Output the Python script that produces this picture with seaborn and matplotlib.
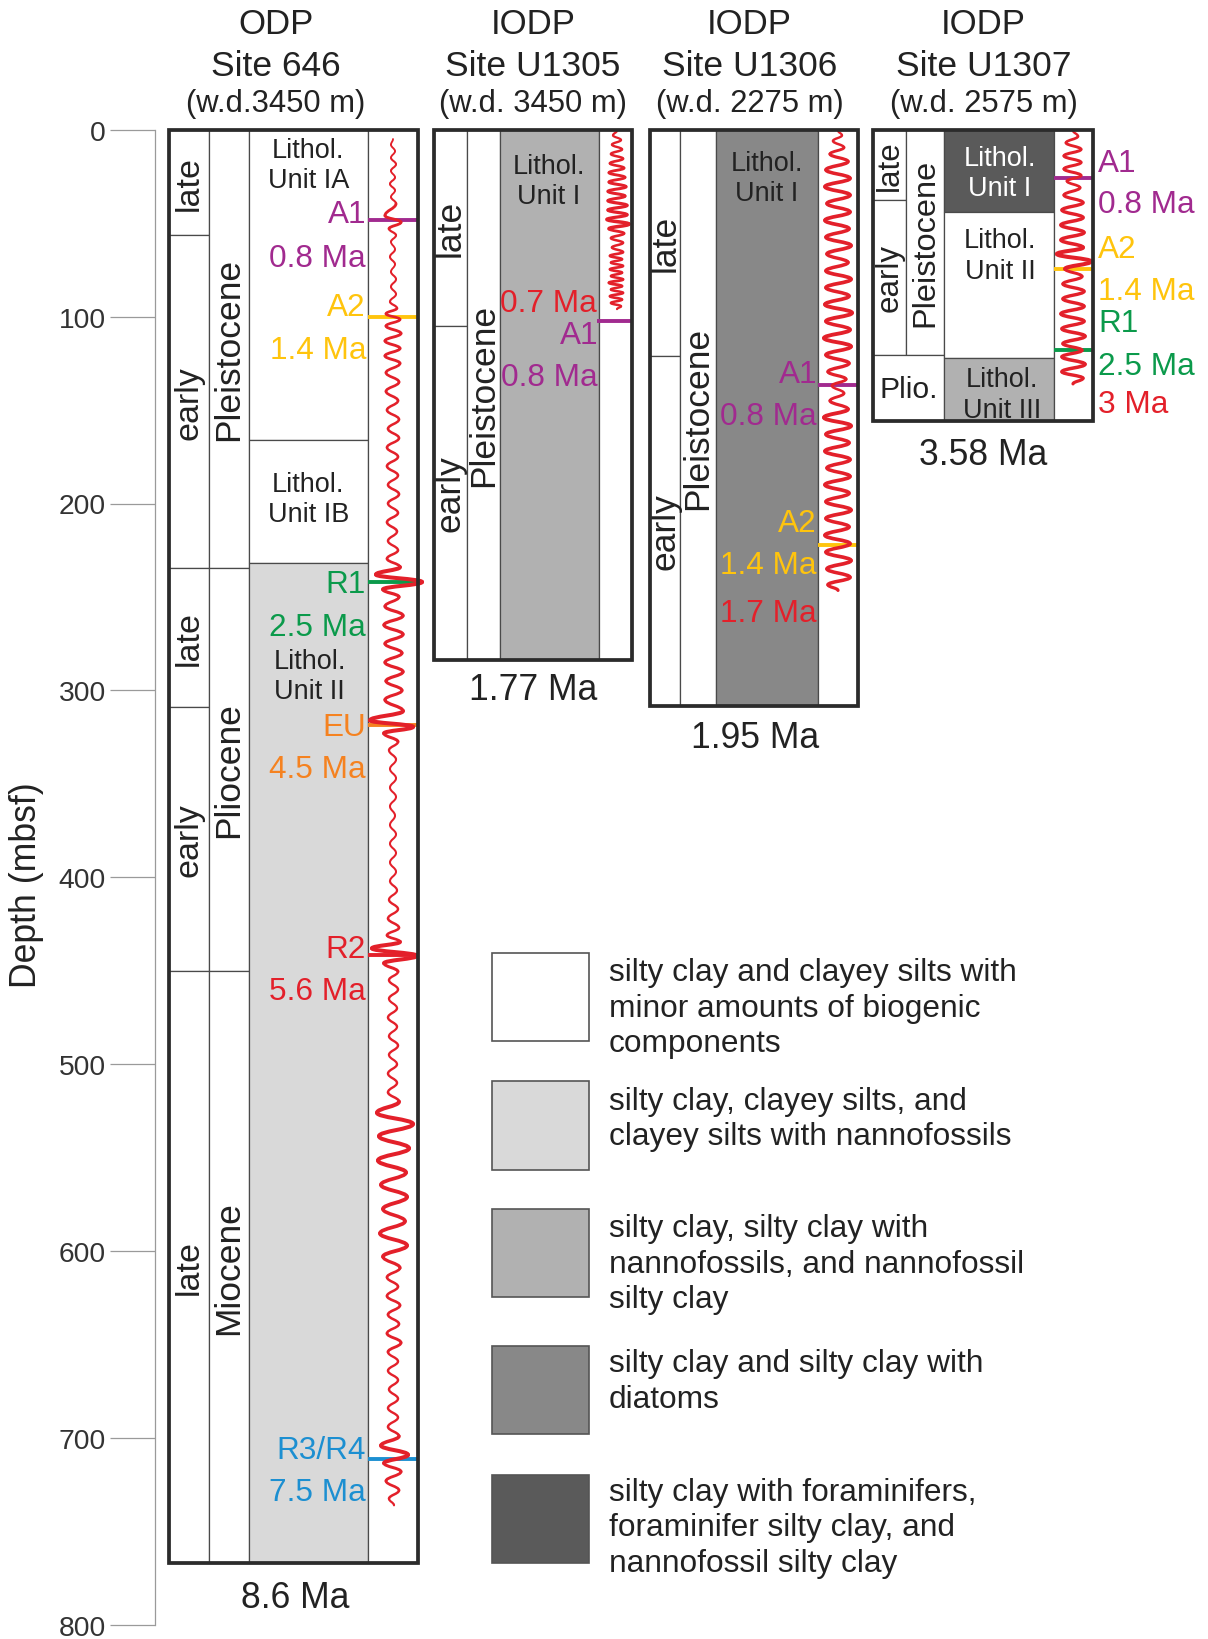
import matplotlib
matplotlib.use("Agg")
import matplotlib.pyplot as plt
from matplotlib.patches import Rectangle, PathPatch
from matplotlib.path import Path
import seaborn as sns

sns.set_theme(style="white")
plt.rcParams['font.family'] = ['Liberation Sans', 'DejaVu Sans']

# ---------------------------------------------------------------- data
DEPTH_TICKS = [0, 100, 200, 300, 400, 500, 600, 700, 800]

# Site 646
S646_BOTTOM = 767
S646_SUB = [(0, 56.5, 'late'), (56.5, 234.5, 'early'), (234.5, 309, 'late'),
            (309, 450, 'early'), (450, 767, 'late')]
S646_EPOCH = [(0, 234.5, 'Pleistocene'), (234.5, 450, 'Pliocene'), (450, 767, 'Miocene')]
S646_LITH = [(0, 166, 'white'), (166, 232, 'white'), (232, 767, 'light')]
S646_UNITS = ['Lithol.\nUnit IA', 'Lithol.\nUnit IB', 'Lithol.\nUnit II']
S646_REFL = ['A1', 'A2', 'R1', 'EU', 'R2', 'R3/R4']
S646_AGES = ['0.8 Ma', '1.4 Ma', '2.5 Ma', '4.5 Ma', '5.6 Ma', '7.5 Ma']
S646_REFL_DEPTH = [48.5, 100.2, 242, 318.4, 441.6, 711]
S646_TRACE_D = [5, 8, 11.5, 15, 18.5, 22, 25.5, 29, 32.5, 36, 39.5, 46, 49.5, 53, 56.5,
                60, 64, 68, 72, 76, 80, 84, 88, 92, 95.5, 98.5, 101.5, 105, 109, 113,
                117, 121, 125, 130, 135, 140, 145, 150, 155, 160, 165, 170, 175, 180,
                185, 190, 195, 200, 205, 210, 215, 220, 225, 229.5, 234, 238, 242, 246,
                250, 255, 260, 265, 270, 275, 280, 285, 290, 295, 300, 305, 311, 316,
                319.5, 323, 327.5, 332, 337, 342, 347, 352, 357, 362, 367, 372, 377,
                382, 387, 392, 397, 402, 407, 412, 417, 422, 427, 431, 434.5, 438, 442,
                446, 450.5, 455, 460, 465, 470, 475, 480, 485, 490, 495, 500, 505, 510,
                515, 520, 526, 532, 538.5, 545, 551.5, 558, 564.5, 571, 577.5, 584,
                590.5, 597, 603, 609, 614, 619, 624, 629, 634, 639, 644, 649, 654, 659,
                664, 669, 674, 679, 684, 689, 694, 699, 704, 709, 713.5, 718, 723, 728,
                732.5, 736]
S646_TRACE_A = [0, -2, 2, -2, 3, -2, 2, -3, 2, -2, 3, -8, 8, -4, 3,
                -2, 2, -3, 2, -2, 3, -2, 3, -3, 4, -7, 7, -7, 8, -8,
                7, -8, 7, -7, 6, -7, 5, -6, 6, -5, 6, -6, 5, -6,
                5, -5, 6, -5, 5, -6, 4, -5, 5, -6, 7, -17, 29, -10,
                6, -8, 10, -9, 10, -8, 9, -8, 10, -7, 9, -8, 10, -23,
                20, -9, 5, -4, 3, -3, 3, -3, 3, -3, 2, -3, 3,
                -3, 3, -3, 3, -3, 4, -4, 5, -5, 6, -6, 7, -21, 24,
                -9, 5, -4, 5, -4, 4, -5, 4, -4, 5, -4, 4, -5, 4,
                -5, 6, -16, 20, -14, 16, -15, 13, -12, 14, -10, 12,
                -13, 14, -10, 7, -6, 5, -6, 7, -5, 6, -6, 8, -5, 5,
                -5, 5, -4, 5, -5, 5, -5, 6, -12, 15, -9, 8, -7, 6,
                -4, 1]

# Site U1305
U1305_BOTTOM = 283.7
U1305_SUB = [(0, 105, 'late'), (105, 283.7, 'early')]
U1305_EPOCH = [(0, 283.7, 'Pleistocene')]
U1305_LITH = [(0, 283.7, 'mid')]
U1305_UNITS = ['Lithol.\nUnit I']
U1305_REFL = ['A1']
U1305_AGES = ['0.8 Ma']
U1305_REFL_DEPTH = [102.4]
U1305_TRACE_D = [0.5, 3, 5.5, 8, 10.5, 13, 15.5, 18, 20.5, 23, 25.5, 28, 30.5, 33, 35.5,
                 38, 40.5, 43, 45.5, 48, 50.5, 53, 55.5, 58, 60.5, 63, 65.5, 67.5, 69.3,
                 71.1, 72.9, 74.7, 76.5, 78.3, 80.1, 81.9, 83.7, 85.5, 87.3, 89.1, 90.9,
                 92.7, 94.5, 96]
U1305_TRACE_A = [0, -4, 4, -5, 5, -6, 6, -7, 7, -8, 8, -8, 9, -9, 8,
                 -9, 10, -9, 10, -10, 12, -8, 7, -6, 6, -5, 6, -7, 5,
                 -6, 6, -7, 5, -6, 6, -8, 5, -6, 6, -7, 5,
                 -6, 4, 0]

# Site U1306
U1306_BOTTOM = 308.4
U1306_SUB = [(0, 120.9, 'late'), (120.9, 308.4, 'early')]
U1306_EPOCH = [(0, 308.4, 'Pleistocene')]
U1306_LITH = [(0, 308.4, 'dark')]
U1306_UNITS = ['Lithol.\nUnit I']
U1306_REFL = ['A1', 'A2']
U1306_AGES = ['0.8 Ma', '1.4 Ma']
U1306_REFL_DEPTH = [136.5, 222]
U1306_TRACE_D = [0.5, 3, 6, 9.5, 13, 17, 21.5, 26, 30.5, 35, 39.5, 44, 48.5, 53, 57.5,
                 62, 66.5, 71, 75.5, 80, 84.5, 89, 93.5, 98, 102.5, 107, 111.5, 116,
                 120.5, 125, 129.5, 133.5, 137, 141, 145, 149.5, 154, 158.5, 163, 167.5,
                 172, 176.5, 181, 185.5, 190, 194.5, 199, 203.5, 208, 212.5, 217, 221.5,
                 226, 230.5, 235, 239.5, 243.5, 246.5]
U1306_TRACE_A = [0, 4, -5, 6, -8, 10, -12, 12, -13, 12, -11, 12, -13, 11, -12,
                 13, -11, 10, -12, 13, -12, 11, -13, 14, -12, 12, -14, 13,
                 -12, 11, -10, 8, -6, 6, -8, 10, -14, 13, -12, 11,
                 -13, 12, -11, 12, -13, 11, -12, 13, -12, 11, -13, 12,
                 -12, 13, -11, 12, -10, 0]

# Site U1307
U1307_BOTTOM = 155.7
U1307_SUB = [(0, 37.6, 'late'), (37.6, 120.4, 'early')]
U1307_EPOCH = [(0, 120.4, 'Pleistocene')]
U1307_MERGED = [(120.4, 155.7, 'Plio.')]
U1307_LITH = [(0, 44.2, 'darkest'), (44.2, 122.2, 'white'), (122.2, 155.7, 'mid')]
U1307_UNITS = ['Lithol.\nUnit I', 'Lithol.\nUnit II', 'Lithol.\nUnit III']
U1307_REFL = ['A1', 'A2', 'R1']
U1307_AGES = ['0.8 Ma', '1.4 Ma', '2.5 Ma']
U1307_REFL_DEPTH = [25.8, 74.6, 118.1]
U1307_TRACE_D = [0.5, 3.5, 7, 10.5, 14, 17.5, 21, 24.5, 27.5, 31, 35, 39, 43, 47, 51, 55,
                 59, 63, 66.5, 70.5, 74.5, 78.5, 82.5, 86.5, 90.5, 94.5, 98.5, 102.5,
                 106.5, 110.5, 114.5, 118, 121.5, 125.5, 129.5, 133, 136]
U1307_TRACE_A = [0, 5, -7, 8, -9, 8, -9, 8, -6, 7, -9, 10, -11, 10, -12, 11,
                 -12, 10, -16, 18, -8, 9, -10, 11, -10, 11, -12, 11,
                 -11, 12, -10, 9, -11, 12, -11, 10, 0]

SITE_TITLES = [('ODP', 'Site 646', '(w.d.3450 m)'),
               ('IODP', 'Site U1305', '(w.d. 3450 m)'),
               ('IODP', 'Site U1306', '(w.d. 2275 m)'),
               ('IODP', 'Site U1307', '(w.d. 2575 m)')]
BASE_AGES = ['8.6 Ma', '1.77 Ma', '1.95 Ma', '3.58 Ma']
EXTRA_AGES = [('0.7 Ma', 90.7), ('1.7 Ma', 256.9), ('3 Ma', 145.0)]

LEGEND_LABELS = ['silty clay and clayey silts with\nminor amounts of biogenic\ncomponents',
                 'silty clay, clayey silts, and\nclayey silts with nannofossils',
                 'silty clay, silty clay with\nnannofossils, and nannofossil\nsilty clay',
                 'silty clay and silty clay with\ndiatoms',
                 'silty clay with foraminifers,\nforaminifer silty clay, and\nnannofossil silty clay']
LEGEND_KEYS = ['white', 'light', 'mid', 'dark', 'darkest']

# ---------------------------------------------------------------- styles
FILLS = {'white': '#ffffff', 'light': '#d9d9d9', 'mid': '#b1b1b1',
         'dark': '#888888', 'darkest': '#5a5a5a'}
REFL_COLORS = {'A1': '#a12a8f', 'A2': '#ffc40d', 'R1': '#0b9a4b',
               'EU': '#f58220', 'R2': '#e3202a', 'R3/R4': '#1c8fd1'}
TRACE_RED = '#e3202a'
INK = '#222222'
LINE = '#4a4a4a'
FRAME = '#2b2b2b'

W, H = 1208, 1640
Y0, PPM = 130.7, 1.869          # pixel row of 0 m and pixels per metre


def row(y):
    """Depth value of a pixel row (used for layout of free text)."""
    return (y - Y0) / PPM


fig = plt.figure(figsize=(W / 100, H / 100), dpi=100)
ax = fig.add_axes([155 / W, 0, 1 - 155 / W, 1])
ax.set_xlim(155, W)
ax.set_ylim(row(H), row(0))
ax.set_facecolor('white')

# depth axis
ax.set_yticks(DEPTH_TICKS)
ax.set_yticklabels([str(t) for t in DEPTH_TICKS])
ax.set_xticks([])
ax.tick_params(axis='y', left=True, length=32.4, width=0.9, color='#9a9a9a',
               labelsize=20.3, labelcolor='#333333', pad=3, direction='out')
sns.despine(ax=ax, top=True, right=True, bottom=True, left=False)
ax.spines['left'].set_bounds(0, 800)
ax.spines['left'].set_color('#9a9a9a')
ax.spines['left'].set_linewidth(0.9)
ax.grid(False)
ax.set_ylabel('Depth (mbsf)', fontsize=25.7, color=INK)
ax.yaxis.set_label_coords(-0.1054, 1 - 885 / H)


def curve_trace(xc, depths, amps):
    for i in range(len(depths) - 1):
        d0, d1 = depths[i], depths[i + 1]
        a0, a1 = amps[i], amps[i + 1]
        h = 0.42 * (d1 - d0)
        verts = [(xc + a0, d0), (xc + a0, d0 + h), (xc + a1, d1 - h), (xc + a1, d1)]
        codes = [Path.MOVETO, Path.CURVE4, Path.CURVE4, Path.CURVE4]
        lw = min(1.1 + 0.12 * max(abs(a0), abs(a1)), 2.9)
        ax.add_patch(PathPatch(Path(verts, codes), fill=False, ec=TRACE_RED, lw=lw,
                               capstyle='round', joinstyle='round', zorder=8))


def draw_site(cols, bottom, sub, epoch, lith, units, unit_pos, merged=(),
              period_size=25.5, sub_size=25.5):
    xa, xb, xc, xd, xe = cols
    for top, base, name in sub:
        ax.add_patch(Rectangle((xa, top), xb - xa, base - top, fc='white', ec=LINE,
                               lw=0.9, zorder=2))
        ax.text((xa + xb) / 2, (top + base) / 2, name, rotation=90, ha='center',
                va='center', fontsize=sub_size, color=INK, zorder=3)
    for top, base, name in epoch:
        ax.add_patch(Rectangle((xb, top), xc - xb, base - top, fc='white', ec=LINE,
                               lw=0.9, zorder=2))
        ax.text((xb + xc) / 2, (top + base) / 2, name, rotation=90, ha='center',
                va='center', fontsize=period_size, color=INK, zorder=3)
    for top, base, name in merged:
        ax.add_patch(Rectangle((xa, top), xc - xa, base - top, fc='white', ec=LINE,
                               lw=0.9, zorder=2))
        ax.text((xa + xc) / 2, row(387), name, ha='center', va='center_baseline',
                fontsize=21.7, color=INK, zorder=3)
    for top, base, key in lith:
        ax.add_patch(Rectangle((xc, top), xd - xc, base - top, fc=FILLS[key], ec=LINE,
                               lw=0.9, zorder=2))
    ax.add_patch(Rectangle((xd, 0), xe - xd, bottom, fc='white', ec=LINE, lw=0.9, zorder=2))
    for text, (ux, uy, col) in zip(units, unit_pos):
        l1, l2 = text.split('\n')
        ax.text(ux, uy, l1, ha='center', va='center_baseline', fontsize=19.5,
                color=col, zorder=3)
        ax.text(ux, uy + 16.2, l2, ha='center', va='center_baseline', fontsize=19.5,
                color=col, zorder=3)
    ax.add_patch(Rectangle((xa, 0), xe - xa, bottom, fill=False, ec=FRAME, lw=2.7,
                           joinstyle='miter', zorder=9))


def draw_reflectors(x0, x1, names, ages, depths, name_rows, age_rows, lx, ha):
    for n, a, d, nr, ar in zip(names, ages, depths, name_rows, age_rows):
        c = REFL_COLORS[n]
        ax.hlines(d, x0, x1, colors=c, lw=2.8, zorder=6)
        ax.text(lx, nr, n, ha=ha, va='center_baseline', fontsize=22.7, color=c, zorder=4)
        ax.text(lx, ar, a, ha=ha, va='center_baseline', fontsize=22.7, color=c, zorder=4)


# ---------------------------------------------------------------- columns
C646 = [169.4, 209.2, 248.9, 368.2, 418.4]
C1305 = [434.0, 466.5, 500.0, 599.3, 631.7]
C1306 = [649.5, 679.8, 716.4, 817.9, 857.6]
C1307 = [873.3, 905.7, 944.3, 1054.0, 1093.0]

draw_site(C646, S646_BOTTOM, S646_SUB, S646_EPOCH, S646_LITH, S646_UNITS,
          [(308.5, 9.0, INK), (308.5, 188.0, INK), (309.6, 282.6, INK)], sub_size=24.5)
draw_site(C1305, U1305_BOTTOM, U1305_SUB, U1305_EPOCH, U1305_LITH, U1305_UNITS,
          [(549.0, 17.9, INK)])
draw_site(C1306, U1306_BOTTOM, U1306_SUB, U1306_EPOCH, U1306_LITH, U1306_UNITS,
          [(766.6, 16.2, INK)])
draw_site(C1307, U1307_BOTTOM, U1307_SUB, U1307_EPOCH, U1307_LITH, U1307_UNITS,
          [(1000.0, 13.4, 'white'), (1000.0, 57.6, INK), (1002.0, 132.0, INK)],
          merged=U1307_MERGED, period_size=23.4, sub_size=22.5)

# reflectors and their ages
draw_reflectors(C646[3], C646[4], S646_REFL, S646_AGES, S646_REFL_DEPTH,
                [43.4, 92.9, 241.2, 317.9, 436.5, 704.5],
                [66.6, 115.8, 264.1, 340.2, 458.9, 727.0], 366, 'right')
draw_reflectors(C1305[3] - 2, C1305[4], U1305_REFL, U1305_AGES, U1305_REFL_DEPTH,
                [108.0], [130.4], 598, 'right')
draw_reflectors(C1306[3], C1306[4], U1306_REFL, U1306_AGES, U1306_REFL_DEPTH,
                [128.7, 208.7], [151.1, 231.1], 817, 'right')
draw_reflectors(C1307[3], C1307[4], U1307_REFL, U1307_AGES, U1307_REFL_DEPTH,
                [15.7, 62.0, 101.3], [38.0, 84.2, 124.3], 1098, 'left')

for (txt, d), (x, ha) in zip(EXTRA_AGES, [(597, 'right'), (817, 'right'), (1098, 'left')]):
    ax.text(x, d, txt, ha=ha, va='center_baseline', fontsize=22.7, color=TRACE_RED, zorder=4)

# seismic traces
curve_trace(393.0, S646_TRACE_D, S646_TRACE_A)
curve_trace(617.0, U1305_TRACE_D, U1305_TRACE_A)
curve_trace(838.0, U1306_TRACE_D, U1306_TRACE_A)
curve_trace(1073.0, U1307_TRACE_D, U1307_TRACE_A)

# titles and basal ages
for (l1, l2, l3), x in zip(SITE_TITLES, [276, 533, 749.5, 983.5]):
    ax.text(x, row(21), l1, ha='center', va='center_baseline', fontsize=25, color=INK)
    ax.text(x, row(63), l2, ha='center', va='center_baseline', fontsize=25.5, color=INK)
    ax.text(x, row(101), l3, ha='center', va='center_baseline', fontsize=22.3, color=INK)

for txt, (x, y) in zip(BASE_AGES, [(295, 1595), (533, 687), (755.5, 735), (983.5, 452)]):
    ax.text(x, row(y), txt, ha='center', va='center_baseline', fontsize=25.6, color=INK)

# legend
LEG_TOPS = [440.4, 509.2, 577.5, 650.8, 719.6]
LEG_FIRST = [448.8, 517.6, 585.9, 658.1, 726.9]
for key, label, top, first in zip(LEGEND_KEYS, LEGEND_LABELS, LEG_TOPS, LEG_FIRST):
    ax.add_patch(Rectangle((491.6, top), 97.4, 47.2, fc=FILLS[key], ec='#555555',
                           lw=1.2, zorder=2))
    for i, line in enumerate(label.split('\n')):
        ax.text(608.7, first + 19.05 * i, line, ha='left', va='center_baseline',
                fontsize=22.8, color=INK)

fig.savefig('out.png', dpi=100)
